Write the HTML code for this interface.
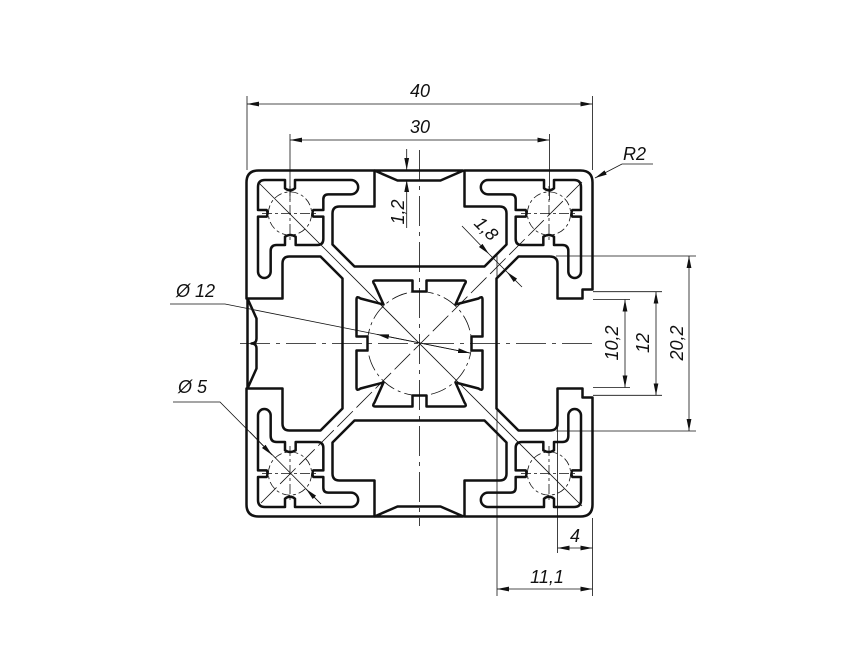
<!DOCTYPE html>
<html><head><meta charset="utf-8"><style>
html,body{margin:0;padding:0;background:#fff;}
svg{display:block;}
text{font-family:"Liberation Sans",sans-serif;font-style:italic;fill:#111;}
</style></head><body>
<svg width="867" height="650" viewBox="0 0 867 650" xmlns="http://www.w3.org/2000/svg">
<defs>
<marker id="ar" viewBox="0 0 12 6" refX="12" refY="3" markerWidth="12" markerHeight="6" markerUnits="userSpaceOnUse" orient="auto-start-reverse">
<path d="M0,0.6 L12,3 L0,5.4 Z" fill="#111"/></marker>
<g id="pocket">
<path transform="translate(-174.5,-178.5) scale(0.33333)" vector-effect="non-scaling-stroke" d="M 60,45 H 120 V 70 Q 135,82 150,70 V 45 H 318 A 20 20 0 0 1 318,88 H 250 Q 235,88 235,103 V 135 H 205 Q 200,145 205,155 H 235 V 222 Q 235,240 217,240 H 152 V 215 Q 135,205 120,215 V 240 H 95 Q 77,240 77,258 V 320 A 19 19 0 0 1 39,320 V 155 H 65 Q 70,145 65,135 H 39 V 66 Q 39,45 60,45 Z"/>
</g>
<path id="hole" d="M 0,-52 H -7 V -63 H -44 Q -48,-63 -45,-59 L -36,-39 L -59,-45 Q -63,-48 -63,-44 V -7 H -52 V 0"/>
<path id="outL" d="M 0,-77 H -65 L -87,-99 V -130 Q -87,-137 -80,-137 H -45 V -173 H -161 Q -173,-173 -173,-161 V -45 H -137 V -80 Q -137,-87 -130,-87 H -99 L -77,-65 V 0"/>
<path id="outR" d="M 0,-77 H 65 L 87,-99 V -130 Q 87,-137 80,-137 H 45 V -173 H 161 Q 173,-173 173,-161 V -54 H 163 V -45 H 138 V -80 Q 138,-87 130,-87 H 99 L 77,-65 V 0"/>
<path id="topop" d="M -45,-173 L -22,-163 H 21 L 44,-173 M -45,-173 H 44"/>
</defs>

<g transform="translate(419.5,343.5)" fill="none" stroke="#111" stroke-width="2.5" stroke-linejoin="round">
<use href="#outL"/><use href="#outL" transform="scale(1,-1)"/>
<use href="#outR"/><use href="#outR" transform="scale(1,-1)"/>
<use href="#hole"/><use href="#hole" transform="scale(-1,1)"/><use href="#hole" transform="scale(1,-1)"/><use href="#hole" transform="scale(-1,-1)"/>
<use href="#pocket"/><use href="#pocket" transform="scale(-1,1)"/><use href="#pocket" transform="scale(1,-1)"/><use href="#pocket" transform="scale(-1,-1)"/>
<use href="#topop"/><use href="#topop" transform="scale(1,-1)"/>
<path d="M -172,-45 V 45 M -172,-45 L -163,-25 V -5 Q -163,0 -168,0 Q -163,0 -163,5 V 25 L -172,45"/>
</g>

<g fill="none" stroke="#111" stroke-width="0.8">
<line x1="240" y1="343.5" x2="596" y2="343.5" stroke-dasharray="30 6 4 6"/>
<line x1="419.5" y1="150" x2="419.5" y2="526" stroke-dasharray="30 6 4 6"/>
<line x1="258" y1="182" x2="582" y2="506"/>
<line x1="582" y1="182" x2="258" y2="506" stroke-dasharray="22 5"/>
<circle cx="419.5" cy="343.5" r="52" stroke-dasharray="16 4 3 4"/>
<g stroke-dasharray="8 3 3 3">
<circle cx="290" cy="213.5" r="21.6"/><circle cx="549" cy="213.5" r="21.6"/>
<circle cx="290" cy="473.5" r="21.6"/><circle cx="549" cy="473.5" r="21.6"/>
</g>
<path d="M262,213.5 H318 M290,186 V241 M521,213.5 H577 M549,186 V241 M262,473.5 H318 M290,446 V501 M521,473.5 H577 M549,446 V501" stroke-dasharray="10 3 3 3"/>
</g>

<g fill="none" stroke="#111" stroke-width="0.8">
<line x1="247" y1="96" x2="247" y2="170"/><line x1="592.5" y1="96" x2="592.5" y2="170"/>
<line x1="247" y1="104" x2="592.5" y2="104" marker-start="url(#ar)" marker-end="url(#ar)"/>
<line x1="290" y1="134" x2="290" y2="200"/><line x1="549.5" y1="134" x2="549.5" y2="200"/>
<line x1="290" y1="140" x2="549.5" y2="140" marker-start="url(#ar)" marker-end="url(#ar)"/>
<line x1="406.7" y1="149" x2="406.7" y2="170" marker-end="url(#ar)"/>
<line x1="406.7" y1="228" x2="406.7" y2="180" marker-end="url(#ar)"/>
<polyline points="653,164 622,164 595,178" marker-end="url(#ar)"/>
<line x1="462" y1="226" x2="489" y2="254" marker-end="url(#ar)"/>
<line x1="522" y1="287" x2="507" y2="272" marker-end="url(#ar)"/>
<line x1="489" y1="254" x2="507" y2="272"/>
<polyline points="170,304 225,304 470,353"/>
<line x1="420" y1="343" x2="377" y2="334.4" marker-end="url(#ar)"/>
<line x1="420" y1="343" x2="470" y2="353" marker-end="url(#ar)"/>
<polyline points="173,402 220,402 321,504"/>
<line x1="250" y1="432" x2="272" y2="455" marker-end="url(#ar)"/>
<line x1="321" y1="504" x2="306" y2="489" marker-end="url(#ar)"/>
<line x1="556" y1="256" x2="696" y2="256"/><line x1="556" y1="431" x2="696" y2="431"/>
<line x1="593" y1="291.7" x2="662" y2="291.7"/><line x1="593" y1="395.3" x2="662" y2="395.3"/>
<line x1="593" y1="299.5" x2="630" y2="299.5"/><line x1="593" y1="387.5" x2="630" y2="387.5"/>
<line x1="625" y1="299.5" x2="625" y2="387.5" marker-start="url(#ar)" marker-end="url(#ar)"/>
<line x1="656" y1="291.7" x2="656" y2="395.3" marker-start="url(#ar)" marker-end="url(#ar)"/>
<line x1="689" y1="256" x2="689" y2="431" marker-start="url(#ar)" marker-end="url(#ar)"/>
<line x1="557.5" y1="427" x2="557.5" y2="553"/>
<line x1="592.5" y1="518" x2="592.5" y2="596"/>
<line x1="497" y1="255" x2="497" y2="596"/>
<line x1="557.5" y1="548" x2="592.5" y2="548" marker-start="url(#ar)" marker-end="url(#ar)"/>
<line x1="497" y1="589" x2="592.5" y2="589" marker-start="url(#ar)" marker-end="url(#ar)"/>
</g>

<g font-size="18">
<text x="420" y="97" text-anchor="middle">40</text>
<text x="420" y="133" text-anchor="middle">30</text>
<text x="623" y="160">R2</text>
<text transform="translate(404,212) rotate(-90)" text-anchor="middle">1,2</text>
<text transform="translate(482,233) rotate(45)" text-anchor="middle">1,8</text>
<text x="176" y="297">Ø 12</text>
<text x="178" y="393">Ø 5</text>
<text transform="translate(618,343) rotate(-90)" text-anchor="middle">10,2</text>
<text transform="translate(649,343) rotate(-90)" text-anchor="middle">12</text>
<text transform="translate(683,343) rotate(-90)" text-anchor="middle">20,2</text>
<text x="575" y="542" text-anchor="middle">4</text>
<text x="547" y="583" text-anchor="middle">11,1</text>
</g>
</svg>
</body></html>
